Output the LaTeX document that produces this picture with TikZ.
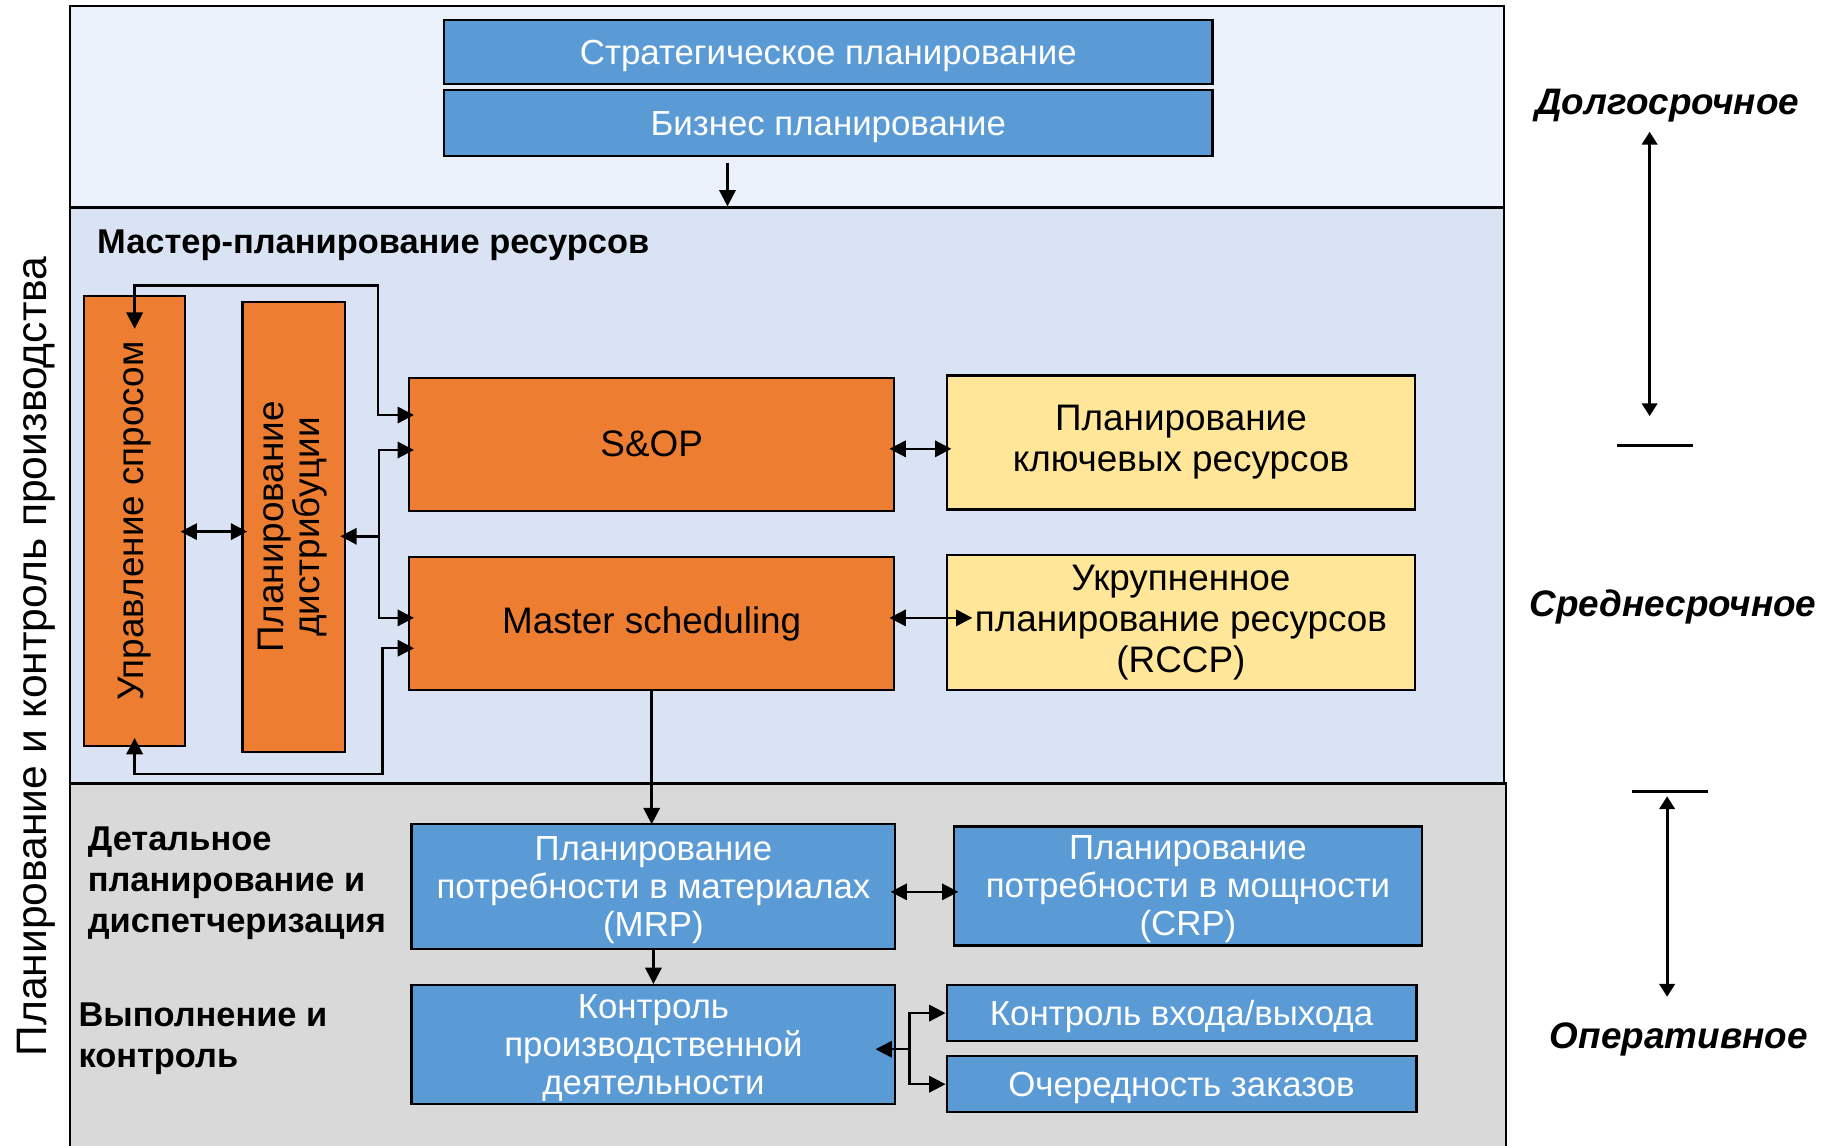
\documentclass[tikz,border=0pt]{standalone}
\usepackage{fontspec}
\setmainfont{Liberation Sans}
\usetikzlibrary{arrows.meta}
\definecolor{boxblue}{HTML}{5B9BD5}
\definecolor{boxorange}{HTML}{ED7D31}
\definecolor{boxyellow}{HTML}{FFE699}
\definecolor{bandtopfill}{HTML}{EAF1FA}
\definecolor{bandmidfill}{HTML}{DAE3F3}
\definecolor{bandbotfill}{HTML}{D9D9D9}
\newcommand{\lowtext}[1]{\raisebox{-2.1mm}[0pt][0pt]{#1}}
\tikzset{
  box/.style={draw=black, line width=1.1pt, inner sep=0pt, align=center},
  bluebox/.style={box, fill=boxblue, text=white, font=\fontsize{17}{18.5}\selectfont},
  orangebox/.style={box, fill=boxorange, font=\fontsize{18}{20}\selectfont},
  yellowbox/.style={box, fill=boxyellow, font=\fontsize{18}{20}\selectfont},
  band/.style={draw=black, line width=1.1pt, inner sep=0pt},
  conn/.style={line width=1.2pt, shorten >=-1mm, -{Triangle[length=2.8mm,width=2.8mm]}},
  dconn/.style={line width=1.2pt, shorten >=-1mm, shorten <=-1mm,
    {Triangle[length=2.8mm,width=2.8mm]}-{Triangle[length=2.8mm,width=2.8mm]}},
  tconn/.style={line width=1.6pt, {Triangle[length=2.2mm,width=2.6mm]}-{Triangle[length=2.2mm,width=2.6mm]}},
  term/.style={font=\fontsize{18}{20}\selectfont\bfseries\itshape},
  header/.style={font=\fontsize{16.8}{20}\selectfont\bfseries, align=left, anchor=west, inner sep=0pt},
}
\begin{document}
\begin{tikzpicture}[x=0.2mm, y=-0.2mm]
\useasboundingbox (0,0) rectangle (1568,983);
% bands
\node[band, fill=bandtopfill, minimum width=246mm, minimum height=34.6mm] (bandtop) at (675,91.5) {};
\node[band, fill=bandmidfill, minimum width=246mm, minimum height=98.8mm] (bandmid) at (675,425) {};
\node[band, fill=bandbotfill, minimum width=246.4mm, minimum height=63.6mm] (bandbot) at (676,831) {};

\node[rotate=90, font=\fontsize{20.8}{24}\selectfont] (title) at (31,563) {Планирование и контроль производства};

% long term
\node[bluebox, minimum width=131.8mm, minimum height=11mm] (strat) at (710.5,44.5) {\lowtext{Стратегическое планирование}};
\node[bluebox, minimum width=131.8mm, minimum height=11.4mm] (biz) at (710.5,105.5) {\lowtext{Бизнес планирование}};
\coordinate (bizout) at (624,140);
\draw[conn, shorten >=0pt] (bizout) -- (bizout |- bandmid.north);

% master planning
\node[header] (hmaster) at (83,210) {Мастер-планирование ресурсов};
\node[orangebox, minimum width=17.4mm, minimum height=77.2mm] (upr) at (115.5,447) {\rotatebox{90}{Управление спросом}};
\node[orangebox, minimum width=17.6mm, minimum height=77.2mm] (dist) at (252,452)
  {\rotatebox{90}{\fontsize{18}{16}\selectfont\begin{tabular}{@{}c@{}}Планирование\\дистрибуции\end{tabular}}};
\node[orangebox, minimum width=83.2mm, minimum height=22.8mm] (sop) at (559,381) {S\&OP};
\node[orangebox, minimum width=83.2mm, minimum height=22.8mm] (ms) at (559,535) {Master scheduling};
\node[yellowbox, minimum width=80.4mm, minimum height=23mm] (kr) at (1013,379.5) {Планирование\\ключевых ресурсов};
\node[yellowbox, minimum width=80.4mm, minimum height=23.2mm] (rccp) at (1013,534) {Укрупненное\\планирование ресурсов\\(RCCP)};

\draw[dconn, shorten <=0pt] ([yshift=-5.8mm]upr.north) |- (324,245) |- ([yshift=5mm]sop.west);
\coordinate (dj) at (325,460);
\draw[conn] (dj) -- (dj -| dist.east);
\draw[dconn] ([yshift=-1mm]sop.west) -| (dj) |- ([yshift=1mm]ms.west);
\draw[dconn, shorten <=0pt] ([yshift=1.6mm]upr.south) |- (328,664) |- ([yshift=-4.2mm]ms.west);
\draw[dconn] ([yshift=-1.8mm]upr.east) -- ([yshift=-1.8mm]upr.east -| dist.west);
\draw[dconn] ([yshift=-0.8mm]sop.east) -- ([yshift=-0.8mm]sop.east -| kr.west);
\coordinate (rin) at ([yshift=1mm]ms.east -| rccp.west);
\draw[dconn, shorten >=0pt] ([yshift=1mm]ms.east) -- ([xshift=4.6mm]rin);
\draw[conn, shorten >=0pt] (ms.south) -- (ms.south |- bandbot.north) -- (ms.south |- 0,707);

% detailed planning
\node[header] (hdet) at (75,758) {Детальное\\планирование и\\диспетчеризация};
\node[header] (hexec) at (67,891) {Выполнение и\\контроль};
\node[bluebox, minimum width=83mm, minimum height=21.4mm] (mrp) at (560.5,760.5) {\\[-1.2mm]Планирование\\потребности в материалах\\(MRP)};
\node[bluebox, minimum width=80.4mm, minimum height=20.4mm] (crp) at (1019,760) {\\[-1.2mm]Планирование\\потребности в мощности\\(CRP)};
\node[bluebox, minimum width=83mm, minimum height=20.4mm] (pac) at (560.5,896) {\\[-1.2mm]Контроль\\производственной\\деятельности};
\node[bluebox, minimum width=80.6mm, minimum height=9.6mm] (io) at (1013.5,869) {\lowtext{Контроль входа/выхода}};
\node[bluebox, minimum width=80.6mm, minimum height=9.6mm] (oq) at (1013.5,930) {\lowtext{Очередность заказов}};

\draw[dconn] ([yshift=-0.9mm]mrp.east) -- ([yshift=-0.9mm]mrp.east -| crp.west);
\draw[conn, shorten >=0pt] (mrp.south) -- (pac.north);
\coordinate (pj) at (780,900);
\draw[conn, shorten >=-3.6mm] (pj) -- (pj -| pac.east);
\draw[conn, shorten >=0pt] (pj) |- (io.west);
\draw[conn, shorten >=0pt] (pj) |- (oq.west);

% horizons
\node[term] (tlong) at (1430,91) {Долгосрочное};
\node[term] (tmed) at (1435,521) {Среднесрочное};
\node[term] (toper) at (1440,892) {Оперативное};
\coordinate (la) at (1415,113);
\coordinate (lb) at (1415,357);
\coordinate (oa) at (1430,683);
\coordinate (ob) at (1430,855);
\draw[tconn] (la) -- (lb);
\draw[tconn] (oa) -- (ob);
\draw[line width=1.6pt] (1387,382) -- (1452,382);
\draw[line width=1.6pt] (1400,679) -- (1465,679);
\end{tikzpicture}
\end{document}
